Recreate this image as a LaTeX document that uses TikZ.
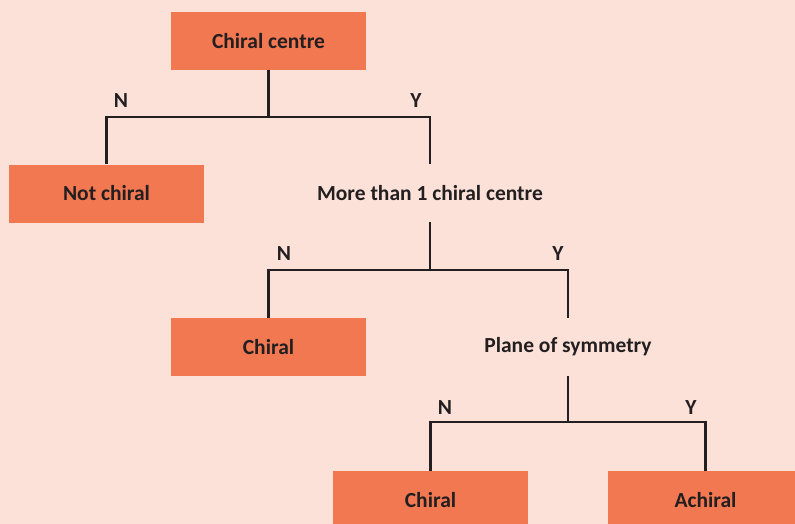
\documentclass[tikz,border=0pt]{standalone}
\usepackage{fontspec}
\setmainfont{Carlito}
\usetikzlibrary{calc}

\definecolor{bgpeach}{HTML}{FCE1D8}
\definecolor{boxorange}{HTML}{F27851}
\definecolor{inkdark}{HTML}{231F20}

\tikzset{
  outcome/.style={fill=boxorange,minimum width=195pt,minimum height=58pt,
                  inner sep=0pt,font=\fontsize{21.5}{24}\selectfont\bfseries,text=inkdark},
  question/.style={minimum width=195pt,minimum height=58pt,inner sep=0pt,
                   font=\fontsize{21.5}{24}\selectfont\bfseries,text=inkdark},
  answer/.style={inner sep=0pt,font=\fontsize{21.5}{24}\selectfont\bfseries,text=inkdark},
  link/.style={draw=inkdark,line width=2.4pt}
}

\begin{document}
\begin{tikzpicture}[x=1pt,y=-1pt]
                        \clip (0,0) rectangle (795,524);
                        \fill[bgpeach] (0,0) rectangle (795,524);
                        % top question
                        \node[outcome] (cc) at (268.5,41) {Chiral centre};
                        \node[outcome] (nc) at (106.5,193.5) {Not chiral};
                        \node[question] (more) at (430,193) {More than 1 chiral centre};
                        \node[outcome] (ch1) at (268.5,347) {Chiral};
                        \node[question] (plane) at (568,347) {Plane of symmetry};
                        \node[outcome] (ch2) at (430.5,500) {Chiral};
                        \node[outcome] (ach) at (705.5,500) {Achiral};
                        % branch points
                        \coordinate (j1) at (268.5,117);
                        \coordinate (j2) at (430,270);
                        \coordinate (j3) at (568,422);
                        % yes / no labels
                        \node[answer] (n1) at (121,101) {N};
                        \node[answer] (y1) at (416,101) {Y};
                        \node[answer] (n2) at (284,254) {N};
                        \node[answer] (y2) at (558,254) {Y};
                        \node[answer] (n3) at (445,408) {N};
                        \node[answer] (y3) at (691,408) {Y};
                        % tree lines
                        \draw[link] (cc.south) -- (j1);
                        \draw[link] (nc.north) |- (j1) -| (more.north);
                        \draw[link] (more.south) -- (j2);
                        \draw[link] (ch1.north) |- (j2) -| (plane.north);
                        \draw[link] (plane.south) -- (j3);
                        \draw[link] (ch2.north) |- (j3) -| (ach.north);
                    \end{tikzpicture}
\end{document}
